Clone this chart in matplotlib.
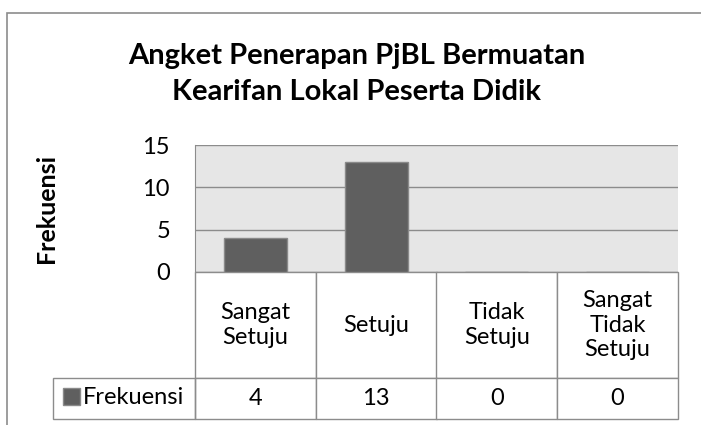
# -*- coding: utf8 -*-
import numpy as np
import matplotlib
matplotlib.use("Agg")
import matplotlib.pyplot as plt
from matplotlib.patches import Rectangle

# Data
categories = ["Sangat\nSetuju", "Setuju", "Tidak\nSetuju", "Sangat\nTidak\nSetuju"]
values = [4, 13, 0, 0]
series_name = "Frekuensi"
yticks = [0, 5, 10, 15]
title = "Angket Penerapan PjBL Bermuatan\nKearifan Lokal Peserta Didik"

plt.rcParams['font.family'] = ['Lato', 'DejaVu Sans']
FS = 17
GRID = "#8c8c8c"

W, H = 701, 425
fig = plt.figure(figsize=(W / 100, H / 100), dpi=100)

# plot area in pixels: x 195..678, y 145..272
ax = fig.add_axes([195 / W, 1 - 272 / H, 483 / W, 127 / H])
ax.set_facecolor("#e6e6e6")

x = np.arange(len(values))
bars = ax.bar(x, values, width=0.52, color="#5f5f5f", edgecolor="#8a8a8a",
              linewidth=1, label=series_name, zorder=3)

ax.set_xlim(-0.5, len(values) - 0.5)
ax.set_ylim(0, 15)
ax.set_yticks(yticks)
ax.set_xticks([])
ax.tick_params(axis='y', length=0, pad=18, labelsize=FS)
ax.yaxis.grid(True, color=GRID, linewidth=1)
ax.set_axisbelow(True)
for s in ["right", "bottom", "top"]:
    ax.spines[s].set_visible(False)
ax.spines["left"].set_color(GRID)

ax.set_ylabel(series_name, fontsize=18, fontweight="bold")
ax.yaxis.set_label_coords(-0.284, 0.5)

# data table under the plot (bbox covers the data columns)
tab = ax.table(cellText=[[str(v) for v in values]], colLabels=categories,
               cellLoc="center", bbox=[0, -147 / 127, 1, 147 / 127])
tab.auto_set_font_size(False)
tab.set_fontsize(FS)
for (r, c), cell in tab.get_celld().items():
    cell.set_edgecolor(GRID)
    cell.set_linewidth(1)
    cell.set_height(106 if r == 0 else 41)

# row label cell with the legend key
ax.add_patch(Rectangle((-142 / 483, -147 / 127), 142 / 483, 41 / 127,
                       transform=ax.transAxes, fill=False, edgecolor=GRID,
                       linewidth=1, clip_on=False))
ax.legend(loc="center left", bbox_to_anchor=(-132 / 483, -126 / 127),
          frameon=False, fontsize=FS, handlelength=0.7, handleheight=0.7,
          handletextpad=0.15, borderpad=0, borderaxespad=0)

fig.text(357 / W, 1 - 74 / H, title, ha="center", va="center",
         fontsize=21, fontweight="bold", linespacing=1.45)

# chart outer border (only top and left visible in the crop)
fig.add_artist(Rectangle((7 / W, -0.1), 1.2, 1.1 - 13 / H, transform=fig.transFigure,
                         fill=False, edgecolor=GRID, linewidth=1.2))

plt.savefig("out.png", dpi=100)
